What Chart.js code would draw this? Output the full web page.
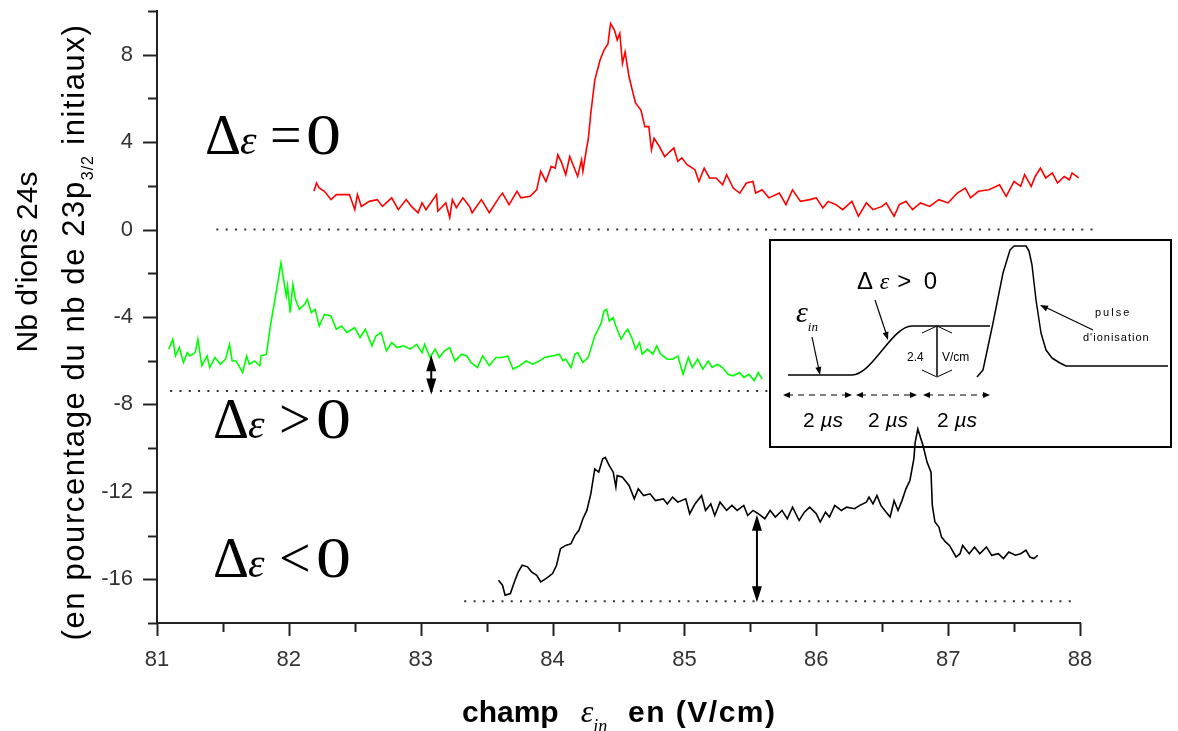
<!DOCTYPE html>
<html>
<head>
<meta charset="utf-8">
<script src="https://cdn.jsdelivr.net/npm/chart.js"></script>
<style>
  html, body { margin: 0; padding: 0; background: #fff; }
  #wrap { width: 1178px; height: 731px; }
</style>
</head>
<body>
<div id="wrap"><canvas id="myChart"></canvas></div>
<script>
const redX = [82.19,82.21,82.23,82.27,82.32,82.36,82.46,82.50,82.52,82.55,
  82.61,82.67,82.71,82.78,82.83,82.89,82.93,82.98,83.01,83.04,
  83.12,83.13,83.19,83.22,83.24,83.27,83.32,83.37,83.39,83.46,
  83.52,83.60,83.62,83.67,83.73,83.76,83.83,83.88,83.91,83.95,
  83.99,84.02,84.04,84.07,84.10,84.13,84.19,84.22,84.23,84.26,
  84.27,84.29,84.32,84.36,84.39,84.42,84.43,84.44,84.47,84.49,
  84.51,84.53,84.55,84.58,84.61,84.63,84.67,84.70,84.73,84.75,
  84.77,84.81,84.85,84.89,84.92,84.95,84.98,85.02,85.08,85.11,
  85.15,85.19,85.24,85.29,85.32,85.37,85.42,85.47,85.52,85.54,
  85.59,85.64,85.72,85.77,85.82,85.88,85.95,86.00,86.05,86.09,
  86.15,86.20,86.27,86.32,86.38,86.43,86.50,86.53,86.59,86.63,
  86.68,86.73,86.79,86.86,86.93,87.00,87.07,87.13,87.17,87.23,
  87.31,87.39,87.44,87.50,87.55,87.58,87.63,87.66,87.70,87.74,
  87.79,87.83,87.88,87.92,87.94,87.99];
const redY = [1.75,2.13,1.9,1.75,1.37,1.6,1.6,0.91,1.6,1.06,
  1.29,1.37,1.06,1.45,0.91,1.37,1.06,0.77,1.22,0.91,
  1.6,0.84,1.22,0.55,1.37,1.0,1.45,1.06,0.77,1.37,
  0.77,1.52,1.67,1.14,1.75,1.45,1.52,1.83,2.66,2.2,
  2.89,2.81,3.42,3.04,2.51,3.34,2.43,3.19,2.66,3.8,
  4.1,5.32,6.84,7.76,8.21,8.5,8.98,9.43,9.12,8.67,
  8.97,7.6,8.13,6.99,6.24,5.78,5.47,4.71,4.71,3.65,
  4.18,3.8,3.34,3.57,3.73,3.12,3.28,2.97,2.74,2.2,
  2.81,2.36,2.36,2.05,2.51,1.9,1.67,2.13,2.2,1.67,
  1.82,1.45,1.67,1.14,1.82,1.29,1.37,1.45,0.99,1.29,
  1.14,0.91,1.29,0.61,1.22,0.91,1.06,1.22,0.61,1.14,
  1.29,0.91,1.22,1.06,1.37,1.22,1.67,1.9,1.45,1.75,
  1.82,2.05,1.52,2.2,1.98,2.51,1.98,2.43,2.81,2.36,
  2.59,2.13,2.43,2.28,2.59,2.36];

const greenX = [81.09,81.12,81.14,81.17,81.20,81.23,81.25,81.29,81.31,81.34,
  81.38,81.40,81.44,81.48,81.52,81.55,81.57,81.60,81.65,81.68,
  81.70,81.74,81.78,81.79,81.83,81.86,81.89,81.92,81.94,81.96,
  81.98,81.99,82.01,82.03,82.05,82.08,82.12,82.14,82.17,82.20,
  82.23,82.27,82.32,82.36,82.40,82.44,82.50,82.54,82.58,82.63,
  82.66,82.70,82.74,82.78,82.82,82.87,82.92,82.97,83.01,83.03,
  83.07,83.11,83.14,83.18,83.22,83.26,83.31,83.35,83.38,83.43,
  83.47,83.52,83.57,83.62,83.66,83.70,83.75,83.80,83.85,83.90,
  83.94,84.00,84.05,84.08,84.10,84.14,84.17,84.19,84.23,84.27,
  84.29,84.32,84.34,84.37,84.39,84.41,84.43,84.46,84.48,84.52,
  84.55,84.57,84.60,84.63,84.66,84.68,84.72,84.76,84.79,84.82,
  84.87,84.91,84.95,84.99,85.03,85.06,85.10,85.14,85.18,85.21,
  85.25,85.29,85.33,85.37,85.42,85.45,85.49,85.53,85.56,85.59];
const greenY = [-5.47,-5.02,-5.78,-5.40,-6.08,-5.63,-5.78,-5.63,-5.02,-6.23,
  -5.78,-6.31,-5.85,-6.16,-5.93,-5.25,-6.01,-6.01,-6.54,-5.78,
  -6.16,-6.01,-6.23,-5.78,-5.70,-4.41,-3.35,-2.28,-1.52,-2.28,
  -3.04,-2.59,-3.80,-2.51,-3.19,-3.65,-3.42,-3.19,-3.80,-3.65,
  -4.41,-3.88,-3.95,-4.56,-4.41,-4.71,-4.49,-4.94,-4.56,-5.32,
  -4.87,-4.71,-5.55,-5.17,-5.40,-5.32,-5.47,-5.25,-5.63,-5.25,
  -5.85,-5.47,-5.85,-5.55,-5.40,-6.01,-5.70,-5.78,-6.08,-6.31,
  -5.78,-6.23,-5.85,-5.85,-5.78,-6.39,-6.23,-6.01,-6.16,-6.01,
  -5.85,-5.78,-5.70,-6.01,-5.93,-6.31,-5.70,-5.63,-6.08,-5.85,
  -5.47,-4.87,-4.64,-4.26,-3.73,-3.65,-4.18,-4.03,-4.41,-5.02,
  -4.71,-4.56,-4.94,-5.47,-5.17,-5.70,-5.47,-5.70,-5.32,-5.70,
  -5.93,-5.93,-5.78,-6.62,-5.85,-6.31,-5.93,-6.39,-6.01,-6.31,
  -6.16,-6.31,-6.62,-6.69,-6.54,-6.77,-6.62,-6.92,-6.54,-6.84];

const blackX = [83.59,83.62,83.64,83.68,83.71,83.74,83.77,83.81,83.84,83.88,
  83.91,83.95,84.00,84.03,84.06,84.10,84.14,84.17,84.20,84.23,
  84.26,84.29,84.32,84.35,84.38,84.40,84.43,84.46,84.48,84.49,
  84.53,84.58,84.62,84.65,84.69,84.74,84.78,84.84,84.87,84.91,
  84.95,85.01,85.04,85.08,85.13,85.16,85.20,85.23,85.27,85.32,
  85.36,85.40,85.45,85.48,85.52,85.56,85.61,85.65,85.69,85.74,
  85.78,85.82,85.87,85.91,85.95,86.00,86.03,86.07,86.10,86.14,
  86.19,86.23,86.29,86.33,86.38,86.40,86.43,86.46,86.49,86.53,
  86.56,86.59,86.62,86.65,86.68,86.71,86.74,86.75,86.77,86.81,
  86.84,86.87,86.88,86.90,86.93,86.95,86.98,87.01,87.06,87.09,
  87.11,87.16,87.20,87.24,87.29,87.33,87.38,87.42,87.46,87.51,
  87.55,87.59,87.62,87.65,87.68];
const blackY = [-16.04,-16.27,-16.73,-16.65,-16.12,-15.66,-15.36,-15.43,-15.66,-15.82,
  -16.12,-15.97,-15.74,-15.36,-14.60,-14.45,-14.37,-13.99,-13.76,-13.23,
  -12.85,-12.09,-10.95,-11.10,-10.49,-10.42,-10.80,-11.10,-11.78,-11.25,
  -11.33,-11.71,-12.32,-11.86,-12.17,-12.09,-12.40,-12.32,-12.55,-12.24,
  -12.47,-12.32,-13.00,-12.55,-12.17,-12.85,-12.55,-13.08,-12.47,-12.85,
  -12.62,-12.85,-12.62,-13.08,-12.85,-13.00,-13.23,-12.85,-13.15,-12.85,
  -13.23,-12.70,-13.31,-12.93,-12.70,-13.00,-13.38,-12.93,-13.15,-12.62,
  -12.85,-12.70,-12.77,-12.62,-12.47,-12.24,-12.55,-12.17,-12.62,-12.93,
  -13.15,-12.40,-12.85,-12.40,-11.86,-11.48,-10.49,-9.73,-9.12,-9.89,
  -10.64,-11.10,-12.62,-13.38,-13.61,-14.07,-14.29,-14.45,-14.98,-14.83,
  -14.45,-14.83,-14.52,-14.83,-14.52,-14.90,-14.83,-15.05,-14.75,-14.90,
  -14.83,-14.67,-14.98,-15.05,-14.90];

// lignes de base pointillées (zéro de chaque courbe)
const baseY = [0, -7.38, -17];
const baseFrom = [81.45, 81.10, 83.33];
const baseTo = [88.15, 85.63, 87.93];

// flèches doubles (x, haut, bas)
const gapX = [83.08, 85.55];
const gapTop = [-5.75, -13.05];
const gapBottom = [-7.55, -17.05];

const xMin = 81, xMax = 88, xStep = 0.5;
const yMin = -18, yMax = 10, yStep = 2;

const SANS = "'Liberation Sans', Arial, sans-serif";
const SERIF = "'Liberation Serif', 'Times New Roman', serif";

function pts(xs, ys) { return xs.map((x, i) => ({x: x, y: ys[i]})); }

function head(ctx, x1, y1, x2, y2, len, w) {
  const a = Math.atan2(y2 - y1, x2 - x1);
  const c = Math.cos(a), s = Math.sin(a);
  ctx.beginPath();
  ctx.moveTo(x2, y2);
  ctx.lineTo(x2 - len * c + w * s, y2 - len * s - w * c);
  ctx.lineTo(x2 - len * c - w * s, y2 - len * s + w * c);
  ctx.closePath();
  ctx.fill();
}

function seg(ctx, x1, y1, x2, y2) {
  ctx.beginPath(); ctx.moveTo(x1, y1); ctx.lineTo(x2, y2); ctx.stroke();
}

// texte en morceaux (police, décalage vertical, espacement)
function runs(ctx, x, y, parts, align) {
  let total = 0;
  parts.forEach(p => {
    ctx.font = p.font;
    ctx.letterSpacing = p.ls || '0px';
    p.w = ctx.measureText(p.text).width + (p.gap || 0);
    total += p.w;
  });
  let cx = align === 'center' ? x - total / 2 : x;
  ctx.textAlign = 'left';
  ctx.textBaseline = 'alphabetic';
  parts.forEach(p => {
    ctx.font = p.font;
    ctx.letterSpacing = p.ls || '0px';
    ctx.fillText(p.text, cx, y + (p.dy || 0));
    cx += p.w;
  });
  ctx.letterSpacing = '0px';
}

function deltaLabel(ctx, x0, base, op, opX, zeroX) {
  ctx.fillStyle = '#000';
  ctx.textBaseline = 'alphabetic';
  ctx.textAlign = 'left';
  ctx.font = `56px ${SERIF}`;
  ctx.fillText('\u0394', x0, base);
  ctx.font = `italic 42px ${SERIF}`;
  ctx.fillText('\u03b5', x0 + 35, base);
  ctx.font = `56px ${SERIF}`;
  ctx.fillText(op, opX, base);
  ctx.save();
  ctx.translate(zeroX, base);
  ctx.scale(1.25, 1);
  ctx.fillText('0', 0, 0);
  ctx.restore();
}

function drawInset(ctx) {
  ctx.save();
  ctx.strokeStyle = '#000';
  ctx.fillStyle = '#000';
  ctx.lineWidth = 2;
  ctx.strokeRect(770, 240, 401, 207);

  ctx.lineWidth = 1.5;
  ctx.lineJoin = 'round';
  // marche du champ
  ctx.beginPath();
  ctx.moveTo(788, 375); ctx.lineTo(852, 375);
  ctx.bezierCurveTo(872, 375, 892, 326, 912, 326);
  ctx.lineTo(990, 326);
  ctx.stroke();
  // pulse d'ionisation
  const pulse = [[977,377],[983,370],[993,323],[1003,273],[1010,250],[1014,246],[1026,246],[1029,251],
    [1032,265],[1036,300],[1041,333],[1046,350],[1052,358],[1060,363],[1066,366],[1168,366]];
  ctx.beginPath();
  pulse.forEach((p, i) => i ? ctx.lineTo(p[0], p[1]) : ctx.moveTo(p[0], p[1]));
  ctx.stroke();

  // 2.4 V/cm
  seg(ctx, 937, 327, 937, 376);
  ctx.lineWidth = 1;
  ctx.beginPath(); ctx.moveTo(922, 333); ctx.lineTo(937, 326); ctx.lineTo(952, 333); ctx.stroke();
  ctx.beginPath(); ctx.moveTo(922, 370); ctx.lineTo(937, 377); ctx.lineTo(952, 370); ctx.stroke();

  // flèches d'annotation
  ctx.lineWidth = 1.2;
  seg(ctx, 875, 300, 887, 336); head(ctx, 875, 300, 888, 340, 8, 3);
  seg(ctx, 812, 337, 819, 370); head(ctx, 812, 337, 820, 375, 8, 3);
  seg(ctx, 1093, 330, 1045, 307); head(ctx, 1093, 330, 1040, 305, 8, 3);

  // durées 2 µs
  ctx.setLineDash([6, 5]);
  [[783, 852], [856, 917], [923, 990]].forEach(s => seg(ctx, s[0] + 4, 395, s[1] - 4, 395));
  ctx.setLineDash([]);
  [[783, 852], [856, 917], [923, 990]].forEach(s => {
    head(ctx, s[0] + 8, 395, s[0], 395, 7, 3);
    head(ctx, s[1] - 8, 395, s[1], 395, 7, 3);
  });

  // textes
  runs(ctx, 857, 289, [
    {text: '\u0394 ', font: `24px ${SANS}`},
    {text: '\u03b5', font: `italic 24px ${SERIF}`, gap: 8},
    {text: '> 0', font: `24px ${SANS}`, ls: '3px'}
  ]);
  runs(ctx, 796, 322, [
    {text: '\u03b5', font: `italic 30px ${SERIF}`},
    {text: 'in', font: `italic 13px ${SERIF}`, dy: 9}
  ]);
  ctx.font = `12px ${SANS}`;
  ctx.fillText('2.4', 907, 361);
  ctx.fillText('V/cm', 942, 361);
  ctx.letterSpacing = '2px';
  ctx.font = `11px ${SANS}`;
  ctx.fillText('pulse', 1095, 316);
  ctx.letterSpacing = '1px';
  ctx.fillText("d'ionisation", 1083, 341);
  ctx.letterSpacing = '0px';
  [823, 888, 957].forEach(cx => runs(ctx, cx, 427, [
    {text: '2 ', font: `21px ${SANS}`},
    {text: '\u00b5s', font: `italic 21px ${SANS}`}
  ], 'center'));
  ctx.restore();
}

const decor = {
  id: 'decor',
  afterDraw(chart) {
    const ctx = chart.ctx;
    const xs = chart.scales.x, ys = chart.scales.y;
    ctx.save();

    // graduations majeures / mineures
    ctx.strokeStyle = '#222';
    ctx.lineWidth = 2;
    xs.ticks.forEach(t => {
      const px = Math.round(xs.getPixelForValue(t.value)) + 0.5;
      seg(ctx, px, xs.top, px, xs.top + (Number.isInteger(t.value) ? 13 : 9));
    });
    ys.ticks.forEach(t => {
      const py = Math.round(ys.getPixelForValue(t.value)) + 0.5;
      seg(ctx, ys.right, py, ys.right - (t.value % 4 === 0 ? 14 : 9), py);
    });

    // flèches doubles
    ctx.fillStyle = '#000';
    ctx.strokeStyle = '#000';
    ctx.lineWidth = 2;
    gapX.forEach((gx, i) => {
      const px = xs.getPixelForValue(gx);
      const p1 = ys.getPixelForValue(gapTop[i]);
      const p2 = ys.getPixelForValue(gapBottom[i]);
      seg(ctx, px, p1 + 10, px, p2 - 10);
      head(ctx, px, p1 + 16, px, p1, 16, 5);
      head(ctx, px, p2 - 16, px, p2, 16, 5);
    });

    // étiquettes Δε
    deltaLabel(ctx, 205, 154, '=', 270, 306);
    deltaLabel(ctx, 213, 438, '>', 279, 316);
    deltaLabel(ctx, 213, 577, '<', 279, 316);

    // titre de l'axe x
    ctx.fillStyle = '#000';
    runs(ctx, 462, 722, [
      {text: 'champ', font: `bold 30px ${SANS}`, gap: 22},
      {text: '\u03b5', font: `italic 32px ${SERIF}`},
      {text: 'in', font: `italic 18px ${SERIF}`, dy: 10, gap: 22}
    ]);
    runs(ctx, 628, 722, [{text: 'en (V/cm)', font: `bold 30px ${SANS}`, ls: '1.5px'}]);

    // titre de l'axe y (deux lignes)
    [[37, 262, [{text: "Nb d'ions 24s", font: `30px ${SANS}`}]],
     [84, 332, [
       {text: '(en pourcentage du nb de 23p', font: `31px ${SANS}`, ls: '1.6px'},
       {text: '3/2', font: `16px ${SANS}`, dy: 9, ls: '1px'},
       {text: ' initiaux)', font: `31px ${SANS}`, ls: '1.6px'}
     ]]].forEach(l => {
      ctx.save();
      ctx.translate(l[0], l[1]);
      ctx.rotate(-Math.PI / 2);
      runs(ctx, 0, 0, l[2], 'center');
      ctx.restore();
    });

    drawInset(ctx);
    ctx.restore();
  }
};

const trace = (data, color) => ({
  data: data, borderColor: color, borderWidth: 1.6,
  pointRadius: 0, tension: 0, fill: false
});
const dotted = baseY.map((y, i) => ({
  data: [{x: baseFrom[i], y: y}, {x: baseTo[i], y: y}],
  borderColor: '#333', borderWidth: 2, borderDash: [2, 7.3],
  pointRadius: 0, clip: false, fill: false
}));

new Chart(document.getElementById('myChart'), {
  type: 'line',
  data: {
    datasets: [
      trace(pts(redX, redY), '#ff0000'),
      trace(pts(greenX, greenY), '#00ff00'),
      trace(pts(blackX, blackY), '#000000'),
      ...dotted
    ]
  },
  options: {
    responsive: true,
    maintainAspectRatio: false,
    animation: false,
    events: [],
    layout: { padding: { left: 0, top: 11, right: 98, bottom: 0 } },
    scales: {
      x: {
        type: 'linear', min: xMin, max: xMax,
        afterFit: s => { s.height = 108; s.paddingLeft = 0; s.paddingRight = 0; },
        border: { display: true, color: '#222', width: 2 },
        grid: { display: false, drawTicks: false },
        ticks: {
          stepSize: xStep, autoSkip: false, maxRotation: 0, padding: 24,
          color: '#333', font: { family: SANS, size: 22 },
          callback: v => Number.isInteger(v) ? v : ''
        }
      },
      y: {
        type: 'linear', min: yMin, max: yMax,
        afterFit: s => { s.width = 157; s.paddingTop = 0; s.paddingBottom = 0; },
        border: { display: true, color: '#222', width: 2 },
        grid: { display: false, drawTicks: false },
        ticks: {
          stepSize: yStep, autoSkip: false, padding: 24,
          color: '#333', font: { family: SANS, size: 22 },
          callback: v => v % 4 === 0 ? v : ''
        }
      }
    },
    plugins: {
      legend: { display: false },
      tooltip: { enabled: false }
    }
  },
  plugins: [decor]
});
</script>
</body>
</html>
